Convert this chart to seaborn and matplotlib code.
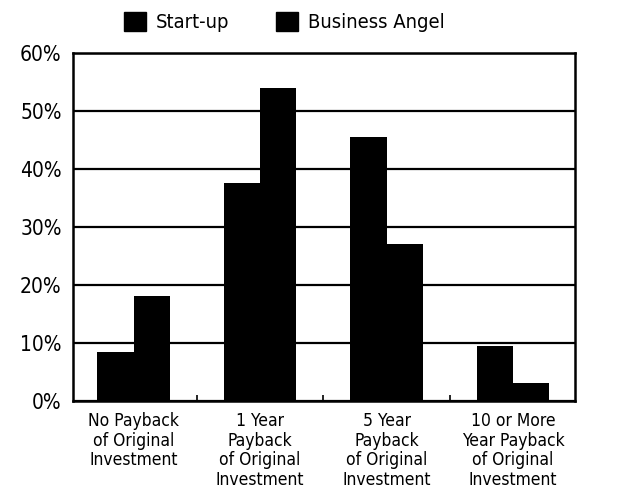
import pandas as pd
import seaborn as sns
import matplotlib.pyplot as plt
from matplotlib.patches import Patch

categories = [
    "No Payback\nof Original\nInvestment",
    "1 Year\nPayback\nof Original\nInvestment",
    "5 Year\nPayback\nof Original\nInvestment",
    "10 or More\nYear Payback\nof Original\nInvestment",
]
series = ["Start-up", "Business Angel"]
startup = [8.5, 37.5, 45.5, 9.5]
angel = [18, 54, 27, 3]
yticks = [0, 10, 20, 30, 40, 50, 60]

df = pd.DataFrame({
    "category": categories * 2,
    "series": [series[0]] * 4 + [series[1]] * 4,
    "value": startup + angel,
})

sns.set_style("white")
plt.rcParams['font.family'] = ['DejaVu Sans']
plt.rcParams['font.stretch'] = 'condensed'
plt.rcParams['text.color'] = 'black'
plt.rcParams['xtick.color'] = 'black'
plt.rcParams['ytick.color'] = 'black'

fig = plt.figure(figsize=(6.17, 5.01), dpi=100)
ax = fig.add_axes([0.118, 0.2, 0.814, 0.694])

sns.barplot(data=df, x="category", y="value", hue="series",
            palette=["black", "black"], width=0.57, gap=0,
            edgecolor="black", linewidth=0, saturation=1,
            legend=False, ax=ax, zorder=3)

ax.set_ylim(0, 60)
ax.set_xlim(-0.48, 3.49)
ax.set_yticks(yticks)
ax.set_yticklabels([f"{t}%" for t in yticks], fontsize=15)
ax.set_xticks(range(4))
ax.set_xticklabels(categories, fontsize=12.5, linespacing=1.12)
ax.tick_params(axis="x", which="major", length=0, pad=8)
ax.tick_params(axis="y", length=0, pad=8)
ax.set_xticks([0.5, 1.5, 2.5], minor=True)
ax.tick_params(axis="x", which="minor", bottom=True, direction="in",
               length=4, width=1.2, color="black")
ax.yaxis.grid(True, color="black", linewidth=1.6, zorder=1)
ax.set_axisbelow(True)
for s in ax.spines.values():
    s.set_color("black")
    s.set_linewidth(1.8)
ax.set_xlabel("")
ax.set_ylabel("")

handles = [Patch(facecolor="black", edgecolor="black", label=s) for s in series]
fig.legend(handles=handles, loc="center", bbox_to_anchor=(0.461, 0.956), ncol=2,
           frameon=False, prop={"size": 14.5, "stretch": "condensed"},
           handlelength=1.1, handleheight=1.1,
           handletextpad=0.5, columnspacing=2.3)

fig.savefig("out.png", dpi=100)
